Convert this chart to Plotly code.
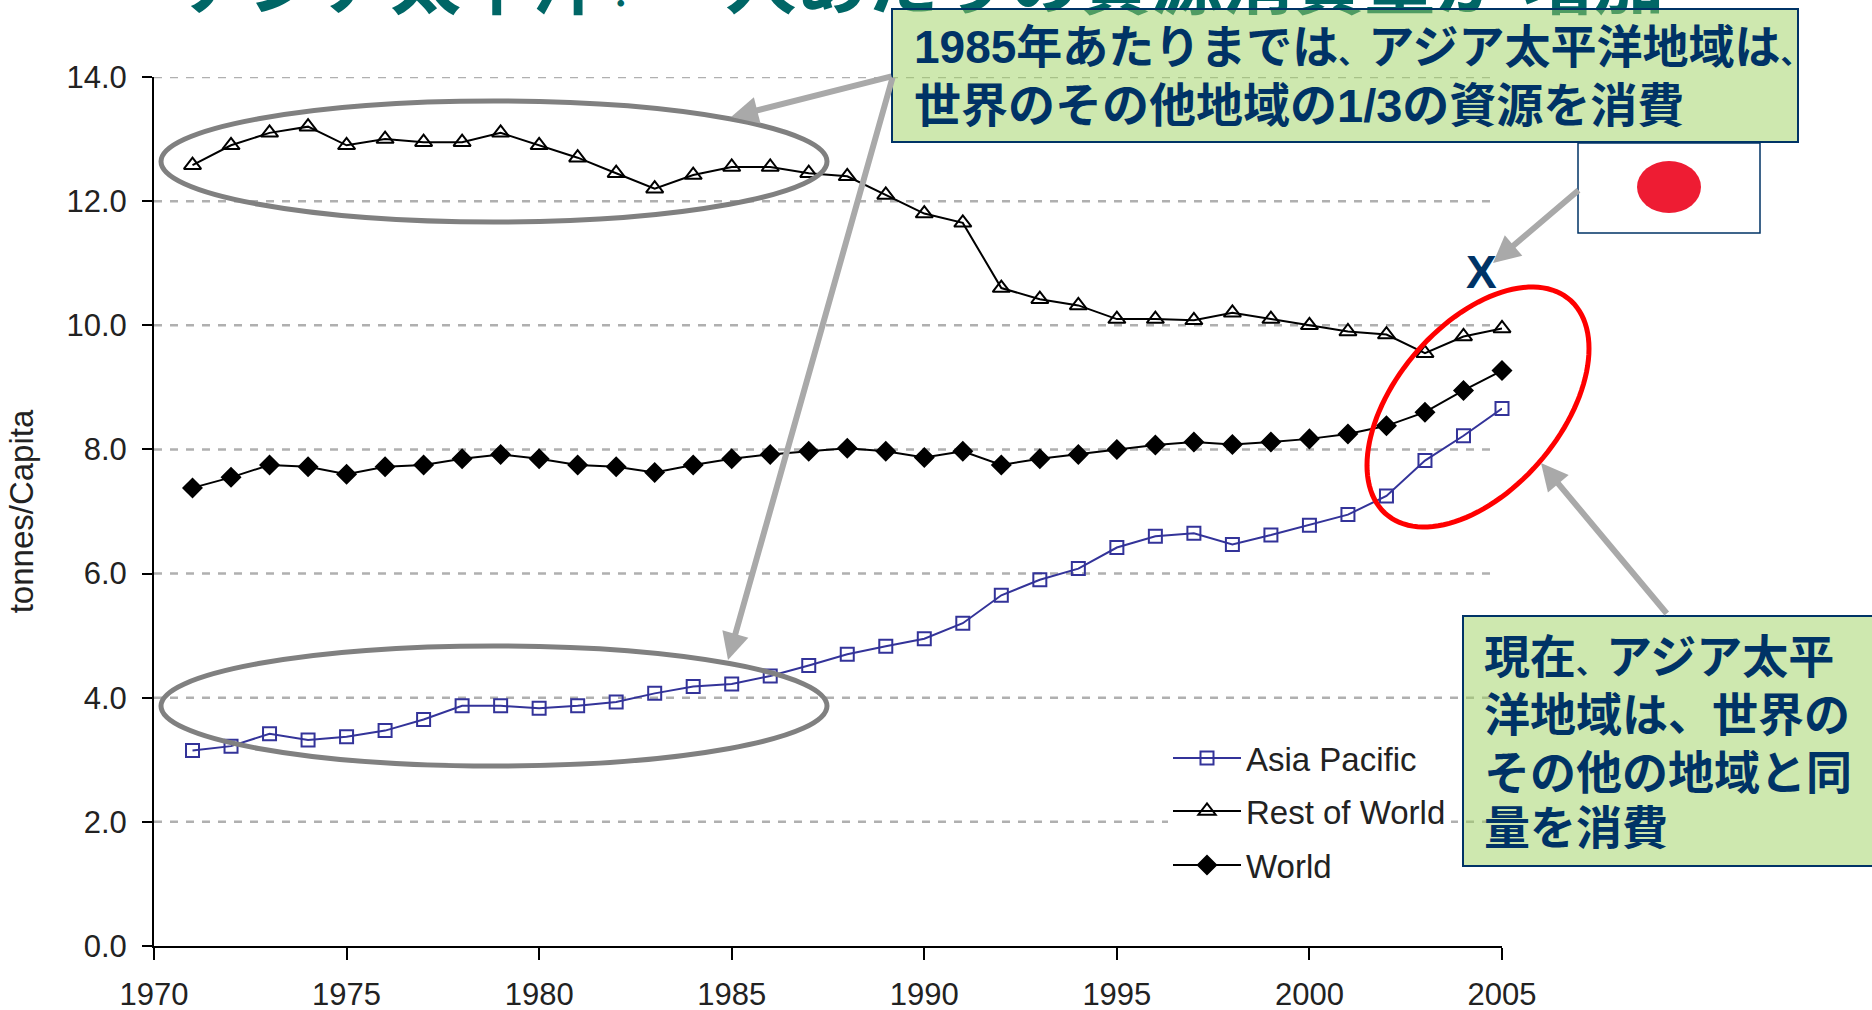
import numpy as np
import plotly.graph_objects as go

years = list(range(1971, 2006))
asia_pacific = [3.15,3.22,3.42,3.32,3.37,3.47,3.65,3.87,3.87,3.83,3.87,3.93,4.07,4.18,4.22,4.35,4.52,4.70,4.83,4.95,5.20,5.65,5.90,6.08,6.42,6.60,6.65,6.47,6.62,6.78,6.95,7.25,7.82,8.22,8.66]
rest_of_world = [12.58,12.90,13.10,13.20,12.90,13.00,12.95,12.95,13.10,12.90,12.70,12.45,12.20,12.42,12.55,12.55,12.45,12.40,12.10,11.80,11.65,10.60,10.42,10.32,10.10,10.10,10.08,10.20,10.10,10.00,9.90,9.85,9.55,9.82,9.95]
world = [7.38,7.55,7.75,7.72,7.60,7.72,7.75,7.85,7.92,7.85,7.75,7.72,7.63,7.75,7.85,7.92,7.97,8.02,7.97,7.87,7.97,7.75,7.85,7.92,8.00,8.07,8.12,8.08,8.12,8.17,8.25,8.38,8.60,8.95,9.27]
y_ticks = [0,2,4,6,8,10,12,14]
x_ticks = [1970,1975,1980,1985,1990,1995,2000,2005]

def comma(size):
    return f'<span style="font-size:{size}px">、</span>'

HALF_COLON = '<span style="font-size:35px">：</span>'
TITLE = f"アジア太平洋{HALF_COLON} 一人あたりの資源消費量が 増加"
BOX1_LINES = [f"1985年あたりまでは{comma(30)}アジア太平洋地域は{comma(30)}", "世界のその他地域の1/3の資源を消費"]
BOX2_LINES = [f"現在{comma(30)}アジア太平", f"洋地域は{comma(44)}世界の", "その他の地域と同", "量を消費"]

W, H = 1872, 1010
L, R, T, B = 154, 1502, 77, 946
FONT = "Liberation Sans, Noto Sans CJK JP, sans-serif"
NAVY = "#003366"
GREY = "#a9a9a9"
BOX_FILL = "rgba(157,209,95,0.5)"

def px(x): return (x - L) / (R - L)
def py(y): return (B - y) / (B - T)

fig = go.Figure()
series = [("Asia Pacific", asia_pacific, "#333399", "square-open", 13, "legend"),
          ("Rest of World", rest_of_world, "#000000", "triangle-up-open", 15, "legend2"),
          ("World", world, "#000000", "diamond", 14, "legend3")]
for name, vals, col, sym, size, leg in series:
    fig.add_trace(go.Scatter(x=years, y=vals, name=name, mode="lines+markers", legend=leg, cliponaxis=False,
                             line=dict(color=col, width=2),
                             marker=dict(symbol=sym, size=size, color=col, line=dict(color=col, width=2))))

shapes = []
for v in y_ticks[1:]:
    shapes.append(dict(type="line", xref="x", yref="y", x0=1970, x1=2004.74, y0=v, y1=v, layer="below",
                       line=dict(color="#b0b0b0", width=2.5, dash="8px,8px")))

def rect(x0, y0, x1, y1, **kw):
    return dict(type="rect", xref="paper", yref="paper", x0=px(x0), x1=px(x1), y0=py(y0), y1=py(y1), **kw)

def ell(x0, y0, x1, y1, **kw):
    return dict(type="circle", xref="paper", yref="paper", x0=px(x0), x1=px(x1), y0=py(y0), y1=py(y1), **kw)

shapes.append(rect(1155, 812, 1462, 834, layer="below", fillcolor="#ffffff", line=dict(width=0)))
shapes.append(ell(161, 101, 827, 222, line=dict(color="#808080", width=5)))
shapes.append(ell(161, 646, 827, 766, line=dict(color="#808080", width=5)))

# red tilted ellipse
t = np.linspace(0, 2 * np.pi, 121)
chol = np.linalg.cholesky(np.array([[111.0**2, 6480.0], [6480.0, 120.0**2]]))
pts = chol @ np.vstack([np.cos(t), np.sin(t)])
ex, ey = 1478 + pts[0], 407 - pts[1]
path = "M " + " L ".join(f"{px(a):.5f},{py(b):.5f}" for a, b in zip(ex, ey)) + " Z"
shapes.append(dict(type="path", xref="paper", yref="paper", path=path, line=dict(color="#ff0000", width=5)))

shapes.append(rect(1578, 143, 1760, 233, fillcolor="#ffffff", line=dict(color=NAVY, width=1.5)))
shapes.append(ell(1637, 161, 1701, 213, fillcolor="#ee1c33", line=dict(width=0)))

def arrow(x0, y0, x1, y1, width):
    return dict(xref="paper", yref="paper", x=px(x1), y=py(y1), ax=x0 - x1, ay=y0 - y1, axref="pixel", ayref="pixel",
                text="", showarrow=True, arrowhead=2, arrowsize=0.9, arrowwidth=width, arrowcolor=GREY)

def box(x0, y0, x1, y1):
    return dict(xref="paper", yref="paper", x=px(x0), y=py(y0), xanchor="left", yanchor="top", text=" ", showarrow=False,
                width=x1 - x0 - 4, height=y1 - y0 - 4, borderpad=0, borderwidth=2, bordercolor=NAVY, bgcolor=BOX_FILL,
                font=dict(family=FONT, size=10, color=NAVY))

def label(x, y, text, size):
    return dict(xref="paper", yref="paper", x=px(x), y=py(y), xanchor="left", yanchor="middle", text=text, showarrow=False,
                font=dict(family=FONT, size=size, color=NAVY, weight="bold"))

annotations = [
    dict(xref="paper", yref="paper", x=px(178), y=py(30), xanchor="left", yanchor="bottom", text=TITLE, showarrow=False,
         font=dict(family="Noto Sans CJK JP", size=71, color="#006666", weight="bold")),
    box(891, 8, 1799, 143),
    box(1462, 615, 1950, 867),
    arrow(893, 76, 731, 117, 6),
    arrow(893, 76, 728, 660, 6),
    arrow(1580, 189, 1493, 263, 6),
    arrow(1668, 615, 1541, 463, 6),
    label(912, 47, BOX1_LINES[0], 46),
    label(912, 105, BOX1_LINES[1], 47),
    label(1482, 657, BOX2_LINES[0], 46),
    label(1482, 715, BOX2_LINES[1], 46),
    label(1482, 773, BOX2_LINES[2], 46),
    label(1482, 828, BOX2_LINES[3], 46),
    dict(xref="paper", yref="paper", x=px(1481), y=py(272), xanchor="center", yanchor="middle", text="X", showarrow=False,
         font=dict(family=FONT, size=46, color=NAVY, weight="bold")),
]

def legend(y):
    return dict(x=px(1168), y=py(y), xanchor="left", yanchor="middle", bgcolor="#ffffff", borderwidth=0,
                itemwidth=68, font=dict(family=FONT, size=33, color="#222222"))

fig.update_layout(
    width=W, height=H, autosize=False, showlegend=True,
    margin=dict(l=L, r=W - R, t=T, b=H - B, pad=0),
    paper_bgcolor="#ffffff", plot_bgcolor="#ffffff",
    font=dict(family=FONT, size=32, color="#222222"),
    shapes=shapes, annotations=annotations,
    legend=legend(758), legend2=legend(811), legend3=legend(865),
    xaxis=dict(range=[1970, 2005], tickvals=x_ticks, ticks="outside", ticklen=12, tickwidth=2, tickcolor="#000000",
               showline=True, linecolor="#000000", linewidth=2, showgrid=False, zeroline=False, automargin=False,
               tickfont=dict(size=31), ticklabelstandoff=8),
    yaxis=dict(range=[0, 14], tickvals=y_ticks, tickformat=".1f", ticks="outside", ticklen=10, tickwidth=2, tickcolor="#000000",
               showline=True, linecolor="#000000", linewidth=2, showgrid=False, zeroline=False, automargin=False,
               tickfont=dict(size=31), ticklabelstandoff=9,
               title=dict(text="tonnes/Capita", font=dict(size=33), standoff=23)),
)
fig.write_html("out.html", config={"displayModeBar": False},
               post_script="document.body.style.margin='0';document.documentElement.style.overflow='hidden';")
